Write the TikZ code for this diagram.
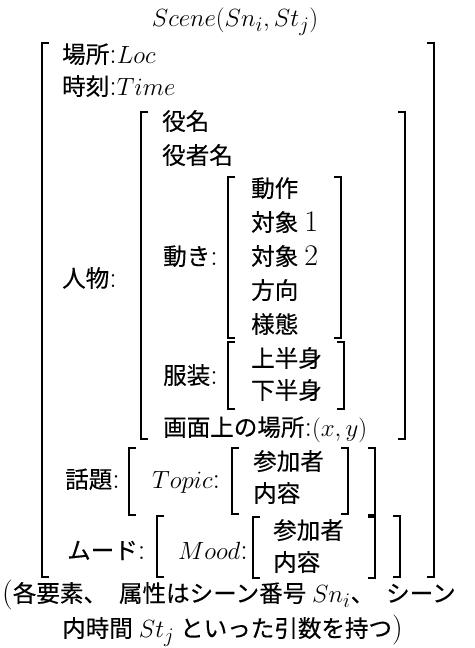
\documentclass[tikz,border=0pt]{standalone}
\usepackage{fontspec}
\newfontfamily\cjk{Noto Sans CJK JP}[Scale=0.785,FakeBold=0.3]
\newcommand\brL[3]{\draw[brk] (#1+7,#2) -- (#1,#2) -- (#1,#3) -- (#1+7,#3);}
\newcommand\brR[3]{\draw[brk] (#1-7,#2) -- (#1,#2) -- (#1,#3) -- (#1-7,#3);}
\begin{document}
\begin{tikzpicture}[x=1pt,y=-1pt,font=\fontsize{30}{36}\selectfont,
  txt/.style={inner sep=0pt,anchor=base west},
  brk/.style={line width=1.4pt,line cap=butt,line join=miter}]
\fill[white] (0,0) rectangle (474,648);
\useasboundingbox (0,0) rectangle (474,648);
% title
\node[txt,anchor=base] (title) at (235,26) {$Scene(Sn_i,St_j)$};
% outer level
\node[txt] (loc) at (62,63) {{\cjk 場所}:$Loc$};
\node[txt] (time) at (62,95) {{\cjk 時刻}:$Time$};
\node[txt] (person) at (62,287) {{\cjk 人物}:};
\node[txt] (topiclbl) at (65,488) {{\cjk 話題}:};
\node[txt] (moodlbl) at (67,559) {{\cjk ムード}:};
% person
\node[txt] (role) at (162,130) {{\cjk 役名}};
\node[txt] (actor) at (162,164) {{\cjk 役者名}};
\node[txt] (move) at (163,265) {{\cjk 動き}:};
\node[txt] (act) at (251,197) {{\cjk 動作}};
\node[txt] (obj1) at (251,231) {{\cjk 対象}\hspace{6pt}1};
\node[txt] (obj2) at (251,265) {{\cjk 対象}\hspace{6pt}2};
\node[txt] (dir) at (251,299) {{\cjk 方向}};
\node[txt] (manner) at (251,333) {{\cjk 様態}};
\node[txt] (cloth) at (163,384) {{\cjk 服装}:};
\node[txt] (upper) at (251,367) {{\cjk 上半身}};
\node[txt] (lower) at (251,399) {{\cjk 下半身}};
\node[txt] (pos) at (163,436) {{\cjk 画面上の場所}:$(x,y)$};
% topic
\node[txt] (topic) at (152,488) {$Topic$:};
\node[txt] (tpart) at (253,470) {{\cjk 参加者}};
\node[txt] (tcont) at (253,502) {{\cjk 内容}};
% mood
\node[txt] (mood) at (178,559) {$Mood$:};
\node[txt] (mpart) at (273,539) {{\cjk 参加者}};
\node[txt] (mcont) at (273,571) {{\cjk 内容}};
% note
\node[txt] (note1) at (2,602) {({\cjk 各要素、}\hspace{12pt}{\cjk 属性はシーン番号}\hspace{6pt}$Sn_i${\cjk 、}\hspace{12pt}{\cjk シーン}};
\node[txt] (note2) at (62,637) {{\cjk 内時間}\hspace{6pt}$St_j$\hspace{6pt}{\cjk といった引数を持つ})};
% brackets
\brL{42}{43}{577} \brR{434}{43}{577}
\brL{141}{112}{439} \brR{405}{112}{439}
\brL{228}{177}{338} \brR{341}{177}{338}
\brL{228}{342}{409} \brR{344}{342}{409}
\brL{129}{448}{515} \brR{375}{448}{515}
\brL{232}{448}{514} \brR{348}{448}{514}
\brL{157}{516}{577} \brR{400}{516}{577}
\brL{253}{517}{578} \brR{375}{517}{578}
\end{tikzpicture}
\end{document}
